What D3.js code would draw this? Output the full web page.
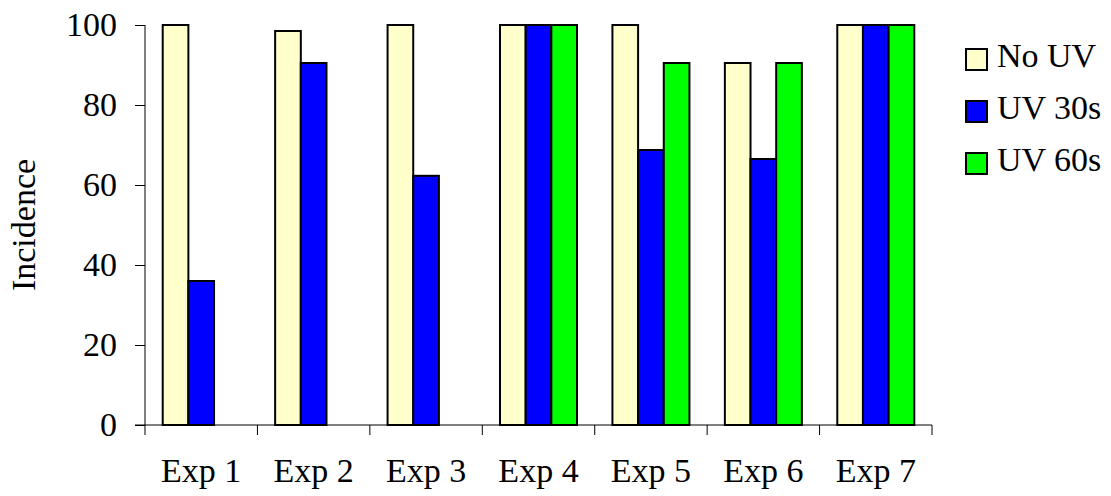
<!DOCTYPE html>
<html>
<head>
<meta charset="utf-8">
<script src="https://cdn.jsdelivr.net/npm/d3@7/dist/d3.min.js"></script>
<style>
  body { margin: 0; background: #fff; }
  svg text { font-family: "Liberation Serif", "Times New Roman", serif; fill: #000; }
</style>
</head>
<body>
<div id="chart"></div>
<script>
const categories = ["Exp 1", "Exp 2", "Exp 3", "Exp 4", "Exp 5", "Exp 6", "Exp 7"]
const seriesNames = ["No UV", "UV 30s", "UV 60s"]
const noUV  = [100, 98.5, 100, 100, 100, 90.5, 100]
const uv30  = [36, 90.5, 62.3, 100, 68.75, 66.5, 100]
const uv60  = [0, 0, 0, 100, 90.5, 90.5, 100]
const yTicks = [0, 20, 40, 60, 80, 100]
const colors = ["#ffffcc", "#0000ff", "#00ff00"]

const width = 1111, height = 496
const margin = {top: 25, right: 179, bottom: 71, left: 145}
const fontSize = 34

const svg = d3.select("#chart").append("svg")
  .attr("width", width)
  .attr("height", height)

const x = d3.scaleBand()
  .domain(categories)
  .range([margin.left, width - margin.right])

const sub = d3.scaleBand()
  .domain(seriesNames)
  .range([0, x.bandwidth()])
  .paddingOuter(0.69)

const y = d3.scaleLinear()
  .domain([0, 100])
  .range([height - margin.bottom, margin.top])

const rows = categories.map((c, i) => ({
  cat: c,
  vals: [noUV[i], uv30[i], uv60[i]]
}))

// bars
const groups = svg.append("g")
  .selectAll("g")
  .data(rows)
  .enter()
  .append("g")
  .attr("transform", d => "translate(" + x(d.cat) + ",0)")

groups.selectAll("rect")
  .data(d => d.vals.map((v, i) => ({name: seriesNames[i], value: v, i: i})).filter(d => d.value > 0))
  .enter()
  .append("rect")
  .attr("x", d => sub(d.name))
  .attr("width", sub.bandwidth())
  .attr("y", d => y(d.value))
  .attr("height", d => y(0) - y(d.value))
  .attr("fill", d => colors[d.i])
  .attr("stroke", "#000")
  .attr("stroke-width", 2)

// y axis
const yAxis = svg.append("g")
  .attr("transform", "translate(" + margin.left + ",0)")
  .call(d3.axisLeft(y).tickValues(yTicks).tickSize(10).tickPadding(18))
yAxis.attr("font-size", fontSize).attr("font-family", null)
yAxis.selectAll("line, path").attr("stroke", "#000")
yAxis.select(".domain").attr("d", "M0," + y(100) + "V" + y(0))

// x axis
const xAxis = svg.append("g")
  .attr("transform", "translate(0," + y(0) + ")")
xAxis.append("line")
  .attr("x1", margin.left - 10).attr("x2", width - margin.right)
  .attr("stroke", "#000")
const lastEdge = x(categories[categories.length - 1]) + x.bandwidth()
xAxis.selectAll(".tk")
  .data(categories.map(c => x(c)).concat([lastEdge]))
  .enter()
  .append("line")
  .attr("x1", d => d)
  .attr("x2", d => d)
  .attr("y1", 0).attr("y2", 10)
  .attr("stroke", "#000")
xAxis.selectAll("text")
  .data(categories)
  .enter()
  .append("text")
  .attr("x", d => x(d) + x.bandwidth() / 2)
  .attr("y", 57)
  .attr("text-anchor", "middle")
  .attr("font-size", fontSize)
  .text(d => d)

// y title
svg.append("text")
  .attr("transform", "translate(35," + y(50) + ") rotate(-90)")
  .attr("text-anchor", "middle")
  .attr("font-size", fontSize)
  .text("Incidence")

// legend
const legend = svg.append("g")
  .attr("transform", "translate(966,49)")
const items = legend.selectAll("g")
  .data(seriesNames)
  .enter()
  .append("g")
  .attr("transform", (d, i) => "translate(0," + i * 52 + ")")
items.append("rect")
  .attr("width", 21).attr("height", 21)
  .attr("fill", (d, i) => colors[i])
  .attr("stroke", "#000").attr("stroke-width", 2)
items.append("text")
  .attr("x", 31).attr("y", 18)
  .attr("font-size", fontSize)
  .text(d => d)
</script>
</body>
</html>
